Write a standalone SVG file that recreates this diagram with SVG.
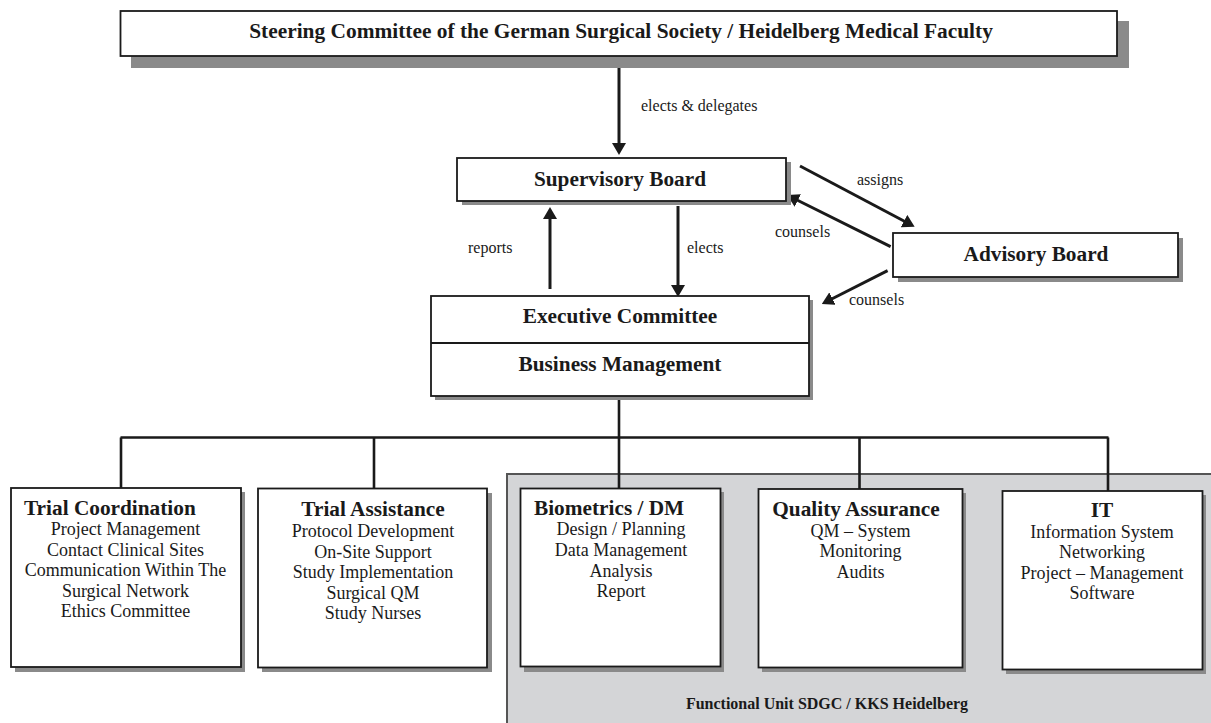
<svg xmlns="http://www.w3.org/2000/svg" width="1211" height="723" viewBox="0 0 1211 723">
<style>
text{font-family:"Liberation Serif","Times New Roman",serif;fill:#1a1a1a}
.h{font-size:21.3px;font-weight:bold}
.it{font-size:18px}
.lb{font-size:16px}
.box{fill:#fff;stroke:#1a1a1a;stroke-width:1.8}
.sh{fill:#8a8a8a}
.con{stroke:#1a1a1a;stroke-width:3;fill:none}
.tree{stroke:#1a1a1a;stroke-width:2.6;fill:none}
.c{text-anchor:middle}
</style>
<defs>
<marker id="ah" markerUnits="userSpaceOnUse" viewBox="0 0 12 14" refX="2" refY="7" markerWidth="12" markerHeight="14" orient="auto">
<path d="M0,0 L12,7 L0,14 z" fill="#1a1a1a"/>
</marker>
</defs>
<rect width="1211" height="723" fill="#fff"/>

<g id="functional-unit">
<rect x="507" y="474" width="710" height="260" fill="#d4d5d7" stroke="#555" stroke-width="2"/>
<text x="827" y="709" class="c" style="font-size:16px;font-weight:bold">Functional Unit SDGC / KKS Heidelberg</text>
</g>

<g id="connectors">
<line class="con" x1="619" y1="68" x2="619" y2="145" marker-end="url(#ah)"/>
<line class="con" x1="678" y1="206" x2="678" y2="287" marker-end="url(#ah)"/>
<line class="con" x1="550" y1="289" x2="550" y2="217" marker-end="url(#ah)"/>
<line class="con" x1="800" y1="166" x2="905.8" y2="222" marker-end="url(#ah)"/>
<line class="con" x1="890.6" y1="246.7" x2="796" y2="199.5" marker-end="url(#ah)"/>
<line class="con" x1="887.6" y1="270.7" x2="830.7" y2="299.5" marker-end="url(#ah)"/>
<text class="lb" x="641" y="111">elects &amp; delegates</text>
<text class="lb" x="857" y="185">assigns</text>
<text class="lb" x="775" y="237">counsels</text>
<text class="lb" x="468" y="253">reports</text>
<text class="lb" x="687" y="253">elects</text>
<text class="lb" x="849" y="305">counsels</text>
<path class="tree" d="M619,390 V437.5 M120.5,437.5 H1108.5 M121,437.5 V488 M374,437.5 V488.5 M619,437.5 V488 M859.5,437.5 V489 M1108,437.5 V491"/>
</g>

<g id="steering-committee">
<rect class="sh" x="131" y="21" width="998" height="47"/>
<rect class="box" x="120.5" y="11" width="996.5" height="45"/>
<text class="c" x="621" y="38" style="font-size:21.4px;font-weight:bold">Steering Committee of the German Surgical Society / Heidelberg Medical Faculty</text>
</g>

<g id="supervisory-board">
<rect class="sh" x="462" y="162" width="329" height="43"/>
<rect class="box" x="457" y="158" width="329" height="43"/>
<text class="h c" x="620" y="186">Supervisory Board</text>
</g>

<g id="advisory-board">
<rect class="sh" x="898" y="238" width="285" height="44"/>
<rect class="box" x="893" y="233" width="285" height="44"/>
<text class="h c" x="1036" y="261">Advisory Board</text>
</g>

<g id="executive-committee">
<rect class="sh" x="435" y="300" width="378" height="100"/>
<rect class="box" x="431" y="296" width="378" height="100"/>
<line x1="431" y1="343" x2="809" y2="343" stroke="#1a1a1a" stroke-width="1.8"/>
<text class="h c" x="620" y="323">Executive Committee</text>
<text class="h c" x="620" y="371">Business Management</text>
</g>

<g id="trial-coordination">
<rect class="sh" x="15" y="492" width="230" height="180"/>
<rect class="box" x="11" y="488" width="230" height="179"/>
<text class="h" x="24" y="515">Trial Coordination</text>
<g class="it c">
<text x="125.5" y="535">Project Management</text>
<text x="125.5" y="556">Contact Clinical Sites</text>
<text x="125.5" y="576">Communication Within The</text>
<text x="125.5" y="597">Surgical Network</text>
<text x="125.5" y="617">Ethics Committee</text>
</g>
</g>

<g id="trial-assistance">
<rect class="sh" x="262" y="493" width="230" height="179"/>
<rect class="box" x="258" y="488.5" width="229" height="179"/>
<text class="h c" x="373" y="516">Trial Assistance</text>
<g class="it c">
<text x="373" y="537">Protocol Development</text>
<text x="373" y="557.5">On-Site Support</text>
<text x="373" y="578">Study Implementation</text>
<text x="373" y="599">Surgical QM</text>
<text x="373" y="619">Study Nurses</text>
</g>
</g>

<g id="biometrics">
<rect class="sh" x="524" y="492" width="200" height="180"/>
<rect class="box" x="520.5" y="488.5" width="200" height="178"/>
<text class="h" x="534" y="515">Biometrics / DM</text>
<g class="it c">
<text x="621" y="535">Design / Planning</text>
<text x="621" y="556">Data Management</text>
<text x="621" y="577">Analysis</text>
<text x="621" y="597">Report</text>
</g>
</g>

<g id="quality-assurance">
<rect class="sh" x="762" y="493" width="204" height="179"/>
<rect class="box" x="758.5" y="489" width="204" height="178.5"/>
<text class="h c" x="856" y="516">Quality Assurance</text>
<g class="it c">
<text x="860.5" y="537">QM – System</text>
<text x="860.5" y="557">Monitoring</text>
<text x="860.5" y="577.5">Audits</text>
</g>
</g>

<g id="it">
<rect class="sh" x="1006" y="495" width="200" height="179"/>
<rect class="box" x="1002.5" y="491" width="200" height="178.5"/>
<text class="h c" x="1102" y="517">IT</text>
<g class="it c">
<text x="1102" y="538">Information System</text>
<text x="1102" y="558">Networking</text>
<text x="1102" y="579">Project – Management</text>
<text x="1102" y="599">Software</text>
</g>
</g>
</svg>
